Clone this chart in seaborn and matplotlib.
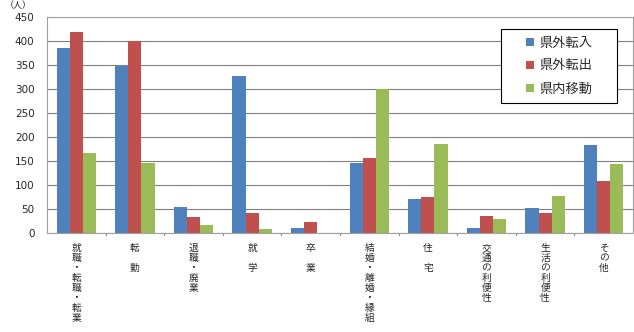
import matplotlib
matplotlib.use("Agg")
import matplotlib.pyplot as plt
from matplotlib.lines import Line2D
from matplotlib.patches import Rectangle
import seaborn as sns
import pandas as pd

categories = ["就職・転職・転業", "転勤", "退職・廃業", "就学", "卒業",
              "結婚・離婚・縁組", "住宅", "交通の利便性", "生活の利便性", "その他"]
tick_labels = ["就\n職\n・\n転\n職\n・\n転\n業", "転\n\n勤", "退\n職\n・\n廃\n業", "就\n\n学", "卒\n\n業",
               "結\n婚\n・\n離\n婚\n・\n縁\n組", "住\n\n宅", "交\n通\nの\n利\n便\n性", "生\n活\nの\n利\n便\n性", "そ\nの\n他"]
series = ["県外転入", "県外転出", "県内移動"]
tennyu = [385, 348, 54, 328, 10, 145, 71, 10, 52, 183]
tenshutsu = [419, 401, 33, 42, 22, 157, 76, 35, 42, 109]
idou = [166, 146, 16, 8, 0, 300, 185, 30, 78, 144]
colors = ["#4F81BD", "#C0504D", "#9BBB59"]

rows = []
for vals, s in zip([tennyu, tenshutsu, idou], series):
    for c, v in zip(categories, vals):
        rows.append({"cat": c, "series": s, "value": v})
df = pd.DataFrame(rows)

sns.set_theme(style="white")
plt.rcParams['font.family'] = ['Noto Sans CJK JP', 'DejaVu Sans']

fig = plt.figure(figsize=(6.34, 3.32), dpi=100)
ax = fig.add_axes([47/634, 99/332, 586/634, 216/332])
sns.barplot(data=df, x="cat", y="value", hue="series", palette=colors,
            width=0.67, saturation=1, linewidth=0, ax=ax, order=categories,
            hue_order=series, legend=False)

ax.set_ylim(0, 450)
ax.set_yticks(range(0, 451, 50))
ax.set_xlim(-0.5, len(categories) - 0.5)
ax.yaxis.grid(True, color="#808080", linewidth=0.8)
ax.set_axisbelow(True)
ax.set_xlabel("")
ax.set_ylabel("")
ax.set_xticks(range(len(categories)))
ax.set_xticklabels(tick_labels, fontsize=7, linespacing=1.0, va="top")
ax.tick_params(axis="x", length=0, pad=7)
ax.tick_params(axis="y", labelsize=7.5, length=0, pad=9)
for lab in ax.get_yticklabels():
    lab.set_family("DejaVu Sans")
for x in [i + 0.5 for i in range(len(categories) - 1)]:
    ax.plot([x, x], [0, -4], color="#808080", linewidth=0.8, clip_on=False)
for sp in ax.spines.values():
    sp.set_color("#A0A0A0")
    sp.set_linewidth(0.8)

# legend box
box = Rectangle((501/634, 1 - 103/332), 116/634, 74/332, transform=fig.transFigure,
                facecolor="white", edgecolor="black", linewidth=0.8, zorder=4)
ax.add_patch(box)
box.set_clip_on(False)
handles = [Line2D([], [], marker="s", linestyle="none", markersize=6,
                  markerfacecolor=c, markeredgewidth=0) for c in colors]
leg = ax.legend(handles, series, loc="center", bbox_to_anchor=(559/634, 1 - 66/332),
                bbox_transform=fig.transFigure, fontsize=9.5, frameon=False,
                handlelength=0.7, labelspacing=0.75, handletextpad=0.4, borderpad=0)
leg.set_zorder(5)

fig.text(5/634, 1 - 6/332, "（人）", fontsize=6.5, va="center", ha="left")

fig.savefig("out.png", dpi=100)
